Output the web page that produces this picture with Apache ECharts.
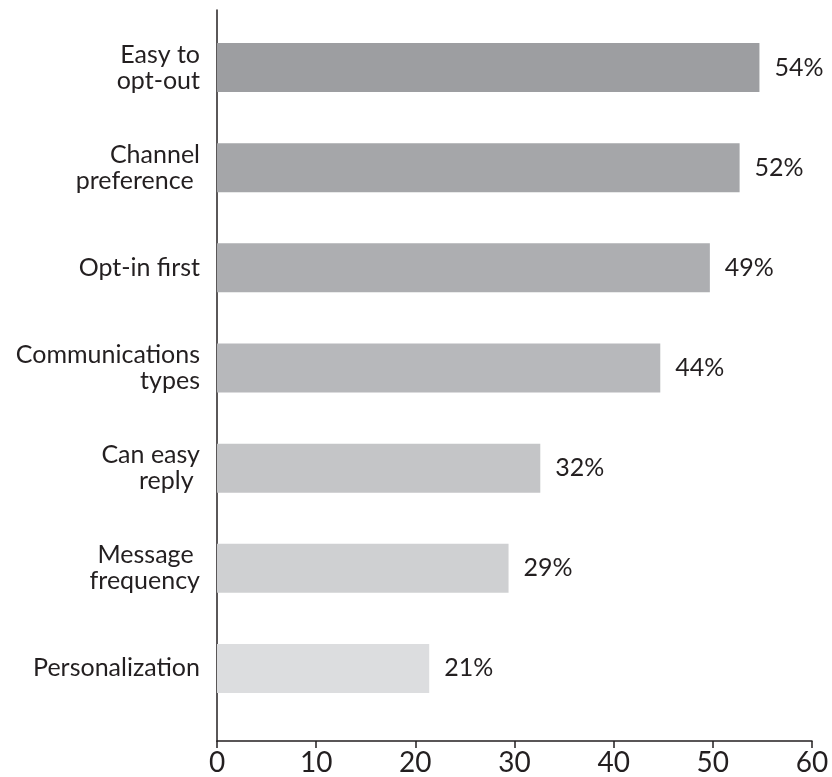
<!DOCTYPE html>
<html><head><meta charset="utf-8">
<script src="https://cdn.jsdelivr.net/npm/echarts@6/dist/echarts.min.js"></script>
<style>html,body{margin:0;padding:0;background:#fff}#c{width:832px;height:777px}</style>
</head><body><div id="c"></div>
<script>
const categories = ["Easy to\nopt-out", "Channel\npreference ", "Opt-in first", "Communications\ntypes", "Can easy\nreply ", "Message \nfrequency", "Personalization"];
const values = [54.7, 52.7, 49.7, 44.7, 32.6, 29.4, 21.4];
const valueLabels = ["54%", "52%", "49%", "44%", "32%", "29%", "21%"];
const barColors = ["#9d9ea1", "#a5a6a9", "#adaeb1", "#b7b8bb", "#c4c5c7", "#cfd0d2", "#dcdddf"];
const xTicks = [0, 10, 20, 30, 40, 50, 60];

const FONT = "Lato";
const TXT = "#231f20";
const chart = echarts.init(document.getElementById('c'), null, {renderer: 'canvas'});
chart.setOption({
  animation: false,
  grid: [
    {left: 217, right: 20, top: 17.5, height: 701},
    {left: 217, right: 20, top: 10, height: 740}
  ],
  xAxis: [
    {gridIndex: 0, type: 'value', min: xTicks[0], max: xTicks[xTicks.length-1], show: false},
    {gridIndex: 1, type: 'value', min: xTicks[0], max: xTicks[xTicks.length-1], interval: 10,
     axisLine: {show: true, lineStyle: {color: TXT, width: 1.5}},
     axisTick: {show: true, length: 7, lineStyle: {color: TXT, width: 1.5}},
     splitLine: {show: false},
     axisLabel: {color: TXT, fontFamily: FONT, fontSize: 28, margin: 8}}
  ],
  yAxis: [
    {gridIndex: 0, type: 'category', data: categories, inverse: true,
     axisLine: {show: false}, axisTick: {show: false},
     axisLabel: {color: TXT, fontFamily: FONT, fontSize: 25, lineHeight: 26, margin: 17, align: 'right'}},
    {gridIndex: 1, type: 'value', min: 0, max: 1,
     axisLine: {show: true, lineStyle: {color: TXT, width: 1.5}},
     axisTick: {show: false}, axisLabel: {show: false}, splitLine: {show: false}}
  ],
  series: [{
    type: 'bar', xAxisIndex: 0, yAxisIndex: 0, barWidth: 49,
    data: values.map((v, i) => ({value: v, itemStyle: {color: barColors[i]}})),
    label: {show: true, position: 'right', distance: 15, color: TXT, fontFamily: FONT, fontSize: 25,
      formatter: p => valueLabels[p.dataIndex]}
  }]
});
</script></body></html>
